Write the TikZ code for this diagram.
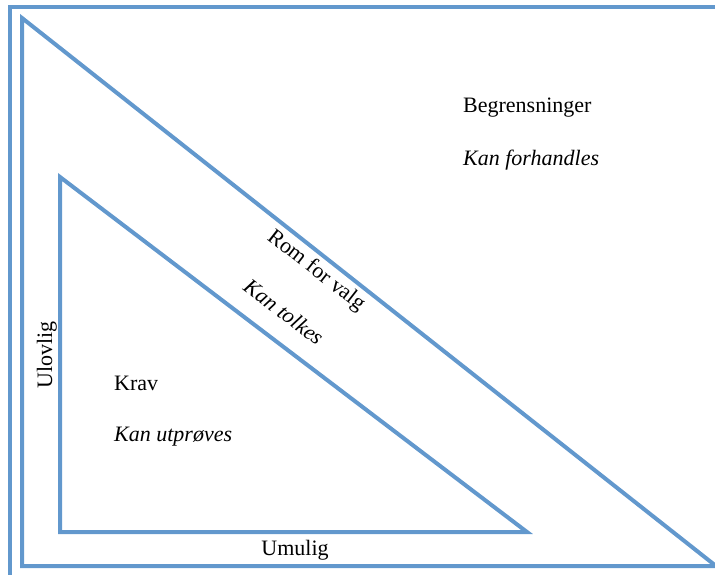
\documentclass[tikz,border=0pt]{standalone}
\usepackage{fontspec}
\setmainfont{Liberation Serif}
\definecolor{edgeblue}{RGB}{98,152,205}
\begin{document}
\begin{tikzpicture}[x=1pt,y=-1pt,
  frame/.style={draw=edgeblue,line width=4pt,line join=miter},
  lbl/.style={inner sep=0pt,font=\fontsize{22}{26}\selectfont},
  ilbl/.style={lbl,font=\fontsize{22}{26}\selectfont\itshape}]
\useasboundingbox (0,0) rectangle (715,575);
\clip (0,0) rectangle (715,575);
% outer frame: only its left and top sides lie on the page
\coordinate (fBL) at (10,590);
\coordinate (fTL) at (10,7);
\coordinate (fTR) at (730,7);
\draw[frame] (fBL) -- (fTL) -- (fTR);
% large triangle
\coordinate (A) at (22,18);
\coordinate (B) at (22,566);
\coordinate (C) at (716,566);
\draw[frame] (A) -- (B) -- (C) -- cycle;
% small triangle
\coordinate (a) at (60,177);
\coordinate (b) at (60,532);
\coordinate (c) at (527,532);
\draw[frame] (a) -- (b) -- (c) -- cycle;
% labels
\node[lbl,anchor=base west] (beg) at (463,113) {Begrensninger};
\node[ilbl,anchor=base west] (forh) at (463,165) {Kan forhandles};
\node[lbl,anchor=base west] (krav) at (114,390) {Krav};
\node[ilbl,anchor=base west] (utp) at (114,441) {Kan utprøves};
\node[lbl,anchor=base] (umu) at (295,555) {Umulig};
\node[lbl,anchor=base,rotate=90] (ulo) at (52,355) {Ulovlig};
\node[lbl,rotate=-38] (rom) at (316,271) {Rom for valg};
\node[ilbl,rotate=-37] (tol) at (284,312) {Kan tolkes};
\end{tikzpicture}
\end{document}
